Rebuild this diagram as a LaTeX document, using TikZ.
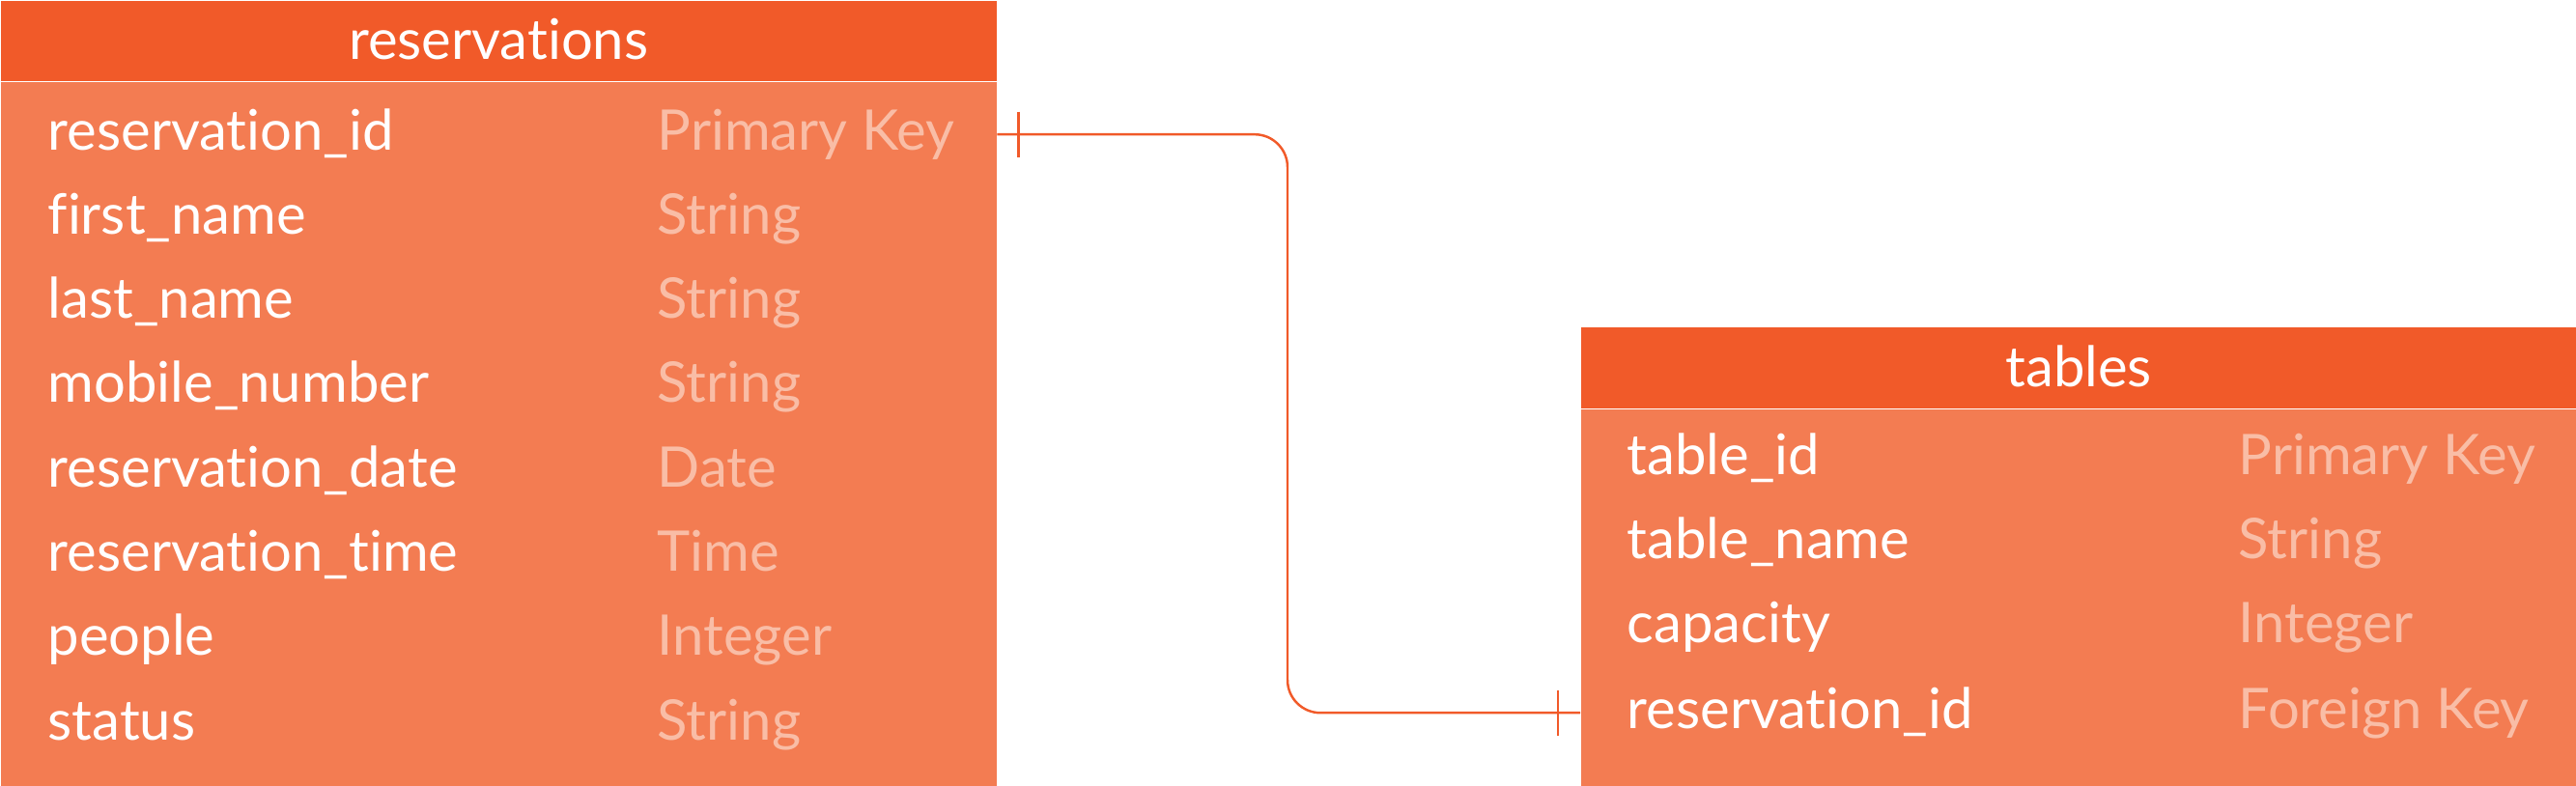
\documentclass[tikz,border=0pt]{standalone}
\usepackage{fontspec}
\setmainfont{Lato}[Ligatures=NoCommon]
\definecolor{headorange}{HTML}{F15A29}
\definecolor{bodyorange}{HTML}{F37C52}
\definecolor{typepeach}{HTML}{F9BDA6}
\tikzset{tbox/.style={
    rectangle,
    inner sep=0pt,
    minimum width=10.31cm,
    anchor=north west
  },
  headbox/.style={tbox,fill=headorange,minimum height=0.83cm,text=white,
    text height=12pt,text depth=1pt,font=\fontsize{16.5}{20}\selectfont},
  bodybox/.style={tbox,fill=bodyorange},
  fieldtxt/.style={anchor=base west,inner sep=0pt,text height=12pt,
    text depth=3pt,text=white,font=\fontsize{16.5}{20}\selectfont},
  typetxt/.style={fieldtxt,text=typepeach},
  relline/.style={draw=headorange,line width=0.7pt},
}
\begin{document}
\begin{tikzpicture}
  \useasboundingbox (0,0) rectangle (26.67,-8.13);
  % reservations table
  \node [headbox] (reshead) at (0,0) {reservations};
  \node [bodybox,minimum height=7.30cm] (resbody) at (reshead.south west) {};
  \node [fieldtxt] (resid) at (0.49,-1.55) {reservation\_id};
  \node [typetxt] (residtype) at (6.80,-1.55) {Primary Key};
  \node [fieldtxt] (first) at (0.49,-2.423) {first\_name};
  \node [typetxt] (firsttype) at (6.80,-2.423) {String};
  \node [fieldtxt] (last) at (0.49,-3.296) {last\_name};
  \node [typetxt] (lasttype) at (6.80,-3.296) {String};
  \node [fieldtxt] (mobile) at (0.49,-4.169) {mobile\_number};
  \node [typetxt] (mobiletype) at (6.80,-4.169) {String};
  \node [fieldtxt] (rdate) at (0.49,-5.042) {reservation\_date};
  \node [typetxt] (rdatetype) at (6.80,-5.042) {Date};
  \node [fieldtxt] (rtime) at (0.49,-5.915) {reservation\_time};
  \node [typetxt] (rtimetype) at (6.80,-5.915) {Time};
  \node [fieldtxt] (people) at (0.49,-6.788) {people};
  \node [typetxt] (peopletype) at (6.80,-6.788) {Integer};
  \node [fieldtxt] (status) at (0.49,-7.661) {status};
  \node [typetxt] (statustype) at (6.80,-7.661) {String};
  % tables table
  \node [headbox,minimum height=0.84cm] (tabhead) at (16.36,-3.38) {tables};
  \node [bodybox,minimum height=3.91cm] (tabbody) at (tabhead.south west) {};
  \node [fieldtxt] (tid) at (16.84,-4.91) {table\_id};
  \node [typetxt] (tidtype) at (23.17,-4.91) {Primary Key};
  \node [fieldtxt] (tname) at (16.84,-5.783) {table\_name};
  \node [typetxt] (tnametype) at (23.17,-5.783) {String};
  \node [fieldtxt] (tcap) at (16.84,-6.656) {capacity};
  \node [typetxt] (tcaptype) at (23.17,-6.656) {Integer};
  \node [fieldtxt] (tresid) at (16.84,-7.54) {reservation\_id};
  \node [typetxt] (tresidtype) at (23.17,-7.54) {Foreign Key};
  % relation
  \coordinate (relfrom) at (resbody.east |- resid.center);
  \coordinate (relto) at (tabbody.west |- tresid.center);
  \coordinate (relbend) at (13.33,0);
  \draw[relline,rounded corners=0.34cm] (relfrom) -- (relbend |- relfrom)
  -- (relbend |- relto) -- (relto);
  \draw[relline] ([xshift=0.22cm]relfrom) ++(0,0.235) -- ++(0,-0.47);
  \draw[relline] ([xshift=-0.23cm]relto) ++(0,0.235) -- ++(0,-0.47);
\end{tikzpicture}
\end{document}
